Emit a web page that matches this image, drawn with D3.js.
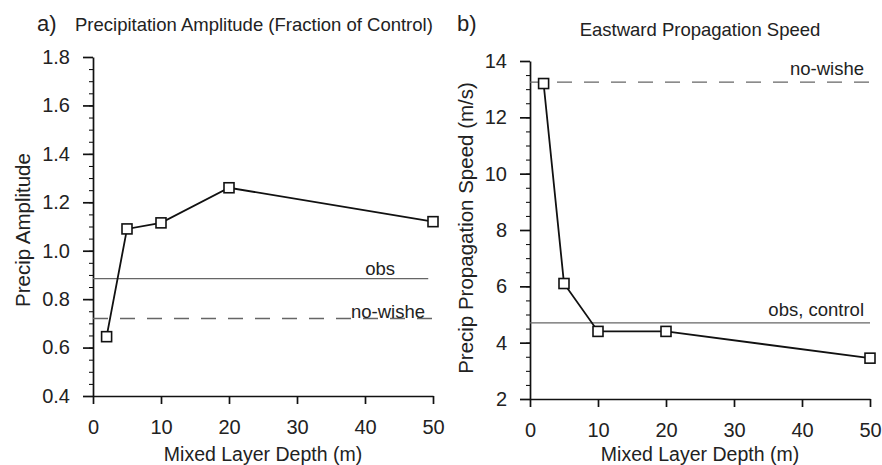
<!DOCTYPE html>
<html lang="en">
  <head>
    <meta charset="UTF-8" />
    <title>mixed layer depth</title>
    <script src="https://cdn.jsdelivr.net/npm/d3@7"></script>
    <style>
      body { margin: 0; background: #fff; }
      text { font-family: "Liberation Sans", Arial, sans-serif; fill: #222; }
    </style>
  </head>
  <body>
    <svg width="882" height="465"></svg>
  </body>

  <script>
    // data
    var depth = [2, 5, 10, 20, 50];
    var amplitude = [0.645, 1.09, 1.115, 1.26, 1.12];
    var speed = [13.2, 6.1, 4.4, 4.4, 3.45];
    var xTicks = [0, 10, 20, 30, 40, 50];
    var ampTicks = [0.4, 0.6, 0.8, 1.0, 1.2, 1.4, 1.6, 1.8];
    var speedTicks = [2, 4, 6, 8, 10, 12, 14];
    var ampObs = 0.885, ampNoWishe = 0.72;
    var speedObs = 4.7, speedNoWishe = 13.25;

    var svg = d3.select('svg');

    function panel(opt) {
      var g = svg.append('g');
      var x = d3.scaleLinear().domain([0, 50]).range([opt.left, opt.right]);
      var y = d3.scaleLinear().domain(opt.yDomain).range([opt.bottom, opt.top]);

      // minor ticks (4 subintervals)
      var minor = [];
      var step = (opt.yTicks[1] - opt.yTicks[0]) / 4;
      for (var v = opt.yDomain[0]; v <= opt.yDomain[1] + 1e-9; v += step) minor.push(+v.toFixed(4));
      g.append('g')
        .attr('transform', 'translate(' + opt.left + ',0)')
        .call(d3.axisLeft(y).tickValues(minor).tickSize(4).tickFormat(''))
        .call(function (a) { a.select('.domain').remove(); });

      var ay = g.append('g')
        .attr('transform', 'translate(' + opt.left + ',0)')
        .call(d3.axisLeft(y).tickValues(opt.yTicks).tickSize(10).tickSizeOuter(0).tickPadding(13).tickFormat(opt.fmt));
      var ax = g.append('g')
        .attr('transform', 'translate(0,' + opt.bottom + ')')
        .call(d3.axisBottom(x).tickValues(xTicks).tickSize(8).tickSizeOuter(0).tickPadding(16));
      [ax, ay].forEach(function (a) {
        a.selectAll('path, line').attr('stroke', '#111').attr('stroke-width', 1.7);
        a.selectAll('text').attr('font-size', 20).attr('fill', '#222')
          .attr('font-family', '"Liberation Sans", Arial, sans-serif');
      });

      // reference lines
      g.append('line')
        .attr('x1', x(0)).attr('x2', x(opt.obsEnd)).attr('y1', y(opt.obs)).attr('y2', y(opt.obs))
        .attr('stroke', '#666').attr('stroke-width', 1.3);
      g.append('line')
        .attr('x1', x(0)).attr('x2', x(50) + 3).attr('y1', y(opt.noWishe)).attr('y2', y(opt.noWishe))
        .attr('stroke', '#666').attr('stroke-width', 1.3).attr('stroke-dasharray', '15,12');
      g.append('text').attr('x', opt.obsLabelX).attr('y', y(opt.obs) - opt.obsOff)
        .attr('text-anchor', 'end').attr('font-size', 18.5).text(opt.obsLabel);
      g.append('text').attr('x', opt.nwLabelX).attr('y', y(opt.noWishe) - opt.nwOff)
        .attr('text-anchor', 'end').attr('font-size', 18.5).text('no-wishe');

      // series
      var line = d3.line().x(function (d, i) { return x(depth[i]); }).y(function (d) { return y(d); });
      g.append('path').datum(opt.values).attr('d', line)
        .attr('fill', 'none').attr('stroke', '#111').attr('stroke-width', 1.8);
      g.selectAll('rect.m').data(opt.values).enter().append('rect')
        .attr('x', function (d, i) { return x(depth[i]) - 5; })
        .attr('y', function (d) { return y(d) - 5; })
        .attr('width', 10).attr('height', 10)
        .attr('fill', '#fff').attr('stroke', '#111').attr('stroke-width', 1.6);

      // titles
      g.append('text').attr('x', opt.tagX).attr('y', 31).attr('font-size', 22).text(opt.tag);
      g.append('text').attr('x', opt.titleX).attr('y', opt.titleY)
        .attr('text-anchor', opt.titleAnchor).attr('font-size', 18.5).text(opt.title);
      g.append('text').attr('x', (opt.left + opt.right) / 2).attr('y', 461)
        .attr('text-anchor', 'middle').attr('font-size', 19.5).text('Mixed Layer Depth (m)');
      g.append('text')
        .attr('transform', 'translate(' + opt.yTitleX + ',' + opt.yTitleY + ') rotate(-90)')
        .attr('text-anchor', 'middle').attr('font-size', 20.5).text(opt.yTitle);
    }

    panel({
      left: 93, right: 433, top: 57, bottom: 396,
      yDomain: [0.4, 1.8], yTicks: ampTicks, fmt: d3.format('.1f'),
      values: amplitude, obs: ampObs, noWishe: ampNoWishe, obsEnd: 49.3,
      obsLabel: 'obs', obsLabelX: 395, obsOff: 4, nwLabelX: 425, nwOff: 1,
      tag: 'a)', tagX: 37, title: 'Precipitation Amplitude (Fraction of Control)',
      titleX: 75, titleY: 31, titleAnchor: 'start',
      yTitle: 'Precip Amplitude', yTitleX: 30, yTitleY: 230
    });

    panel({
      left: 530, right: 870, top: 61, bottom: 399,
      yDomain: [2, 14], yTicks: speedTicks, fmt: d3.format('d'),
      values: speed, obs: speedObs, noWishe: speedNoWishe, obsEnd: 50,
      obsLabel: 'obs, control', obsLabelX: 864, obsOff: 7, nwLabelX: 864, nwOff: 7,
      tag: 'b)', tagX: 457, title: 'Eastward Propagation Speed',
      titleX: 700, titleY: 36, titleAnchor: 'middle',
      yTitle: 'Precip Propagation Speed (m/s)', yTitleX: 473, yTitleY: 228
    });
  </script>
</html>
